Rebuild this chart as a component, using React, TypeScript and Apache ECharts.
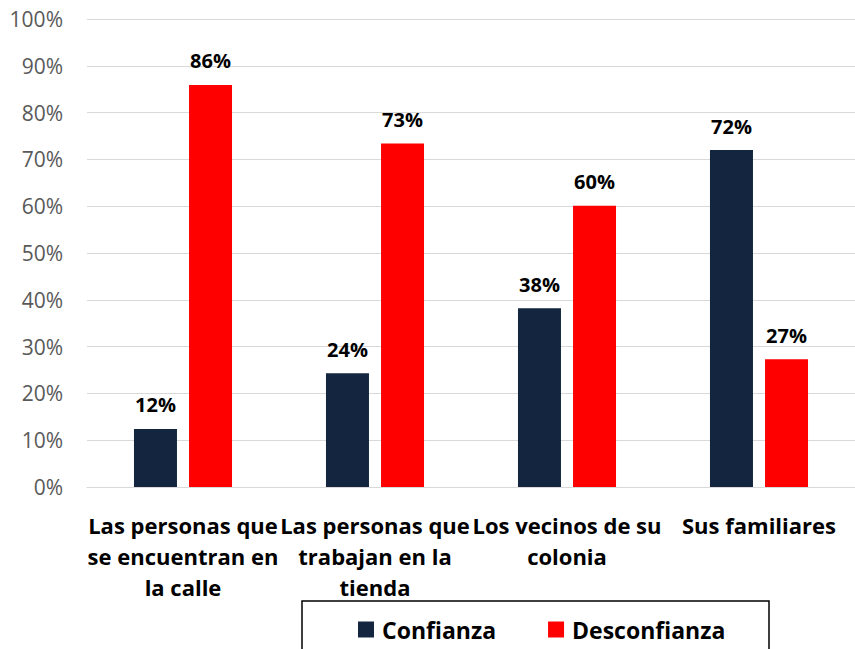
import React, { useEffect, useRef } from "react";
import * as echarts from "echarts";

const categories = [
  "Las personas que\nse encuentran en\nla calle",
  "Las personas que\ntrabajan en la\ntienda",
  "Los vecinos de su\ncolonia",
  "Sus familiares",
];
const confianza = [12.4, 24.3, 38.2, 72.0];
const desconfianza = [85.9, 73.4, 60.1, 27.3];
const seriesNames = ["Confianza", "Desconfianza"];
const colors = ["#14263F", "#FF0000"];

const FONT = "'Open Sans', 'Noto Sans', sans-serif";

export default function App() {
  const ref = useRef<HTMLDivElement>(null);
  useEffect(() => {
    if (!ref.current) return;
    const chart = echarts.init(ref.current, null, { renderer: "svg" });
    const labelCfg = {
      show: true,
      position: "top",
      distance: 14,
      formatter: (p: any) => Math.round(p.value) + "%",
      color: "#000",
      fontWeight: "bold",
      fontSize: 20,
      fontFamily: FONT,
    };
    chart.setOption({
      animation: false,
      textStyle: { fontFamily: FONT },
      grid: { left: 87, right: 0, top: 19, bottom: 162, containLabel: false },
      xAxis: {
        type: "category",
        data: categories,
        axisTick: { show: false },
        axisLine: { lineStyle: { color: "#d9d9d9", width: 1 } },
        axisLabel: {
          interval: 0,
          margin: 22,
          color: "#000",
          fontWeight: "bold",
          fontSize: 22,
          lineHeight: 31,
          fontFamily: FONT,
        },
      },
      yAxis: {
        type: "value",
        min: 0,
        max: 100,
        interval: 10,
        axisLine: { show: false },
        axisTick: { show: false },
        splitLine: { lineStyle: { color: "#d9d9d9", width: 1 } },
        axisLabel: {
          formatter: "{value}%",
          color: "#595959",
          fontSize: 21,
          margin: 24,
          fontFamily: FONT,
        },
      },
      legend: {
        data: seriesNames,
        left: 353,
        top: 613,
        icon: "rect",
        itemWidth: 16,
        itemHeight: 16,
        itemGap: 52,
        textStyle: {
          fontSize: 23,
          fontWeight: "bold",
          color: "#000",
          fontFamily: FONT,
          padding: [0, 0, 0, 3],
        },
      },
      graphic: [
        {
          type: "rect",
          shape: { x: 302, y: 601, width: 467, height: 70 },
          style: { fill: "none", stroke: "#000", lineWidth: 1.5 },
          silent: true,
        },
      ],
      series: [
        {
          name: seriesNames[0],
          type: "bar",
          data: confianza,
          barWidth: 43,
          barGap: "28%",
          itemStyle: { color: colors[0] },
          label: labelCfg,
        },
        {
          name: seriesNames[1],
          type: "bar",
          data: desconfianza,
          barWidth: 43,
          barGap: "28%",
          itemStyle: { color: colors[1] },
          label: labelCfg,
        },
      ],
    });
    return () => chart.dispose();
  }, []);
  return (
    <div
      ref={ref}
      style={{ position: "fixed", left: 0, top: 0, width: 855, height: 649, background: "#fff" }}
    />
  );
}
